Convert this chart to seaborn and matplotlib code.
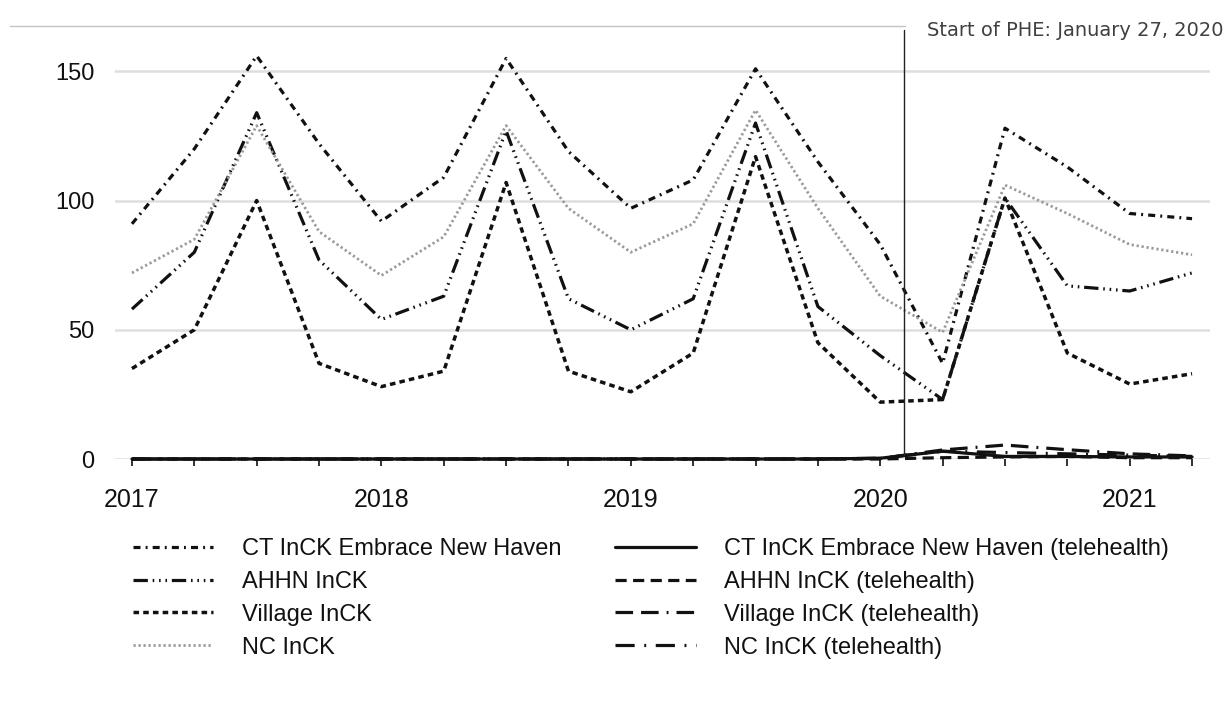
import numpy as np
import pandas as pd
import seaborn as sns
import matplotlib.pyplot as plt
from matplotlib.lines import Line2D

# quarterly values, 2017 Q1 .. 2021 Q2
quarters = [2017.0, 2017.25, 2017.5, 2017.75,
            2018.0, 2018.25, 2018.5, 2018.75,
            2019.0, 2019.25, 2019.5, 2019.75,
            2020.0, 2020.25, 2020.5, 2020.75,
            2021.0, 2021.25]
year_ticks = [2017, 2018, 2019, 2020, 2021]

ct = [91, 120, 156, 122, 92, 109, 155, 119, 97, 108, 151, 115, 83, 37, 128, 113, 95, 93]
ahhn = [58, 80, 134, 77, 54, 63, 127, 62, 50, 62, 130, 59, 40, 23, 101, 67, 65, 72]
village = [35, 50, 100, 37, 28, 34, 107, 34, 26, 41, 117, 45, 22, 23, 101, 41, 29, 33]
nc = [72, 85, 129, 88, 71, 86, 129, 97, 80, 91, 135, 97, 63, 49, 106, 95, 83, 79]

ct_tele = [0, 0, 0, 0, 0, 0, 0, 0, 0, 0, 0, 0, 0.3, 3.0, 1.0, 1.0, 0.8, 0.8]
ahhn_tele = [0, 0, 0, 0, 0, 0, 0, 0, 0, 0, 0, 0, 0, 0.5, 0.8, 1.0, 0.5, 0.5]
village_tele = [0, 0, 0, 0, 0, 0, 0, 0, 0, 0, 0, 0, 0.2, 3.5, 5.4, 3.6, 2.0, 1.2]
nc_tele = [0, 0, 0, 0, 0, 0, 0, 0, 0, 0, 0, 0, 0.3, 3.0, 2.5, 2.0, 1.5, 1.0]

phe_x = 2020.095
phe_label = "Start of PHE: January 27, 2020"

series = [
    ("CT InCK Embrace New Haven", ct, "#111111", (0, (2.2, 1.6, 0.6, 1.6)), 2.3),
    ("AHHN InCK", ahhn, "#111111", (0, (4.5, 1.5, 0.5, 1.5, 0.5, 1.5, 0.5, 1.5)), 2.3),
    ("Village InCK", village, "#111111", (0, (1.6, 1.2)), 2.5),
    ("NC InCK", nc, "#9a9a9a", (0, (0.8, 1.0)), 2.0),
    ("CT InCK Embrace New Haven (telehealth)", ct_tele, "#111111", "-", 2.3),
    ("AHHN InCK (telehealth)", ahhn_tele, "#111111", (0, (3.5, 2.0)), 2.3),
    ("Village InCK (telehealth)", village_tele, "#111111", (0, (5.5, 2.5, 5.5, 2.5, 0.6, 2.5)), 2.3),
    ("NC InCK (telehealth)", nc_tele, "#111111", (0, (6, 3, 0.6, 3)), 2.3),
]

sns.set_theme(style="white")
plt.rcParams["font.family"] = ["Liberation Sans", "DejaVu Sans"]

fig = plt.figure(figsize=(12.29, 7.09), dpi=100)
ax = fig.add_axes([115 / 1229, 1 - 459 / 709, (1210 - 115) / 1229, (459 - 30) / 709])

for y in [0, 50, 100, 150]:
    ax.axhline(y, color="#dedede", lw=1.8, zorder=0)

handles = []
for name, vals, col, ls, lw in series:
    df = pd.DataFrame({"t": quarters, "v": vals})
    sns.lineplot(data=df, x="t", y="v", ax=ax, color=col, linestyle=ls, lw=lw,
                 clip_on=False, label=name, legend=False)
    handles.append(Line2D([], [], color=col, linestyle=ls, lw=lw))

ax.axvline(phe_x, ymin=0.01, ymax=1.0, color="#222222", lw=1.0, clip_on=False)

ax.set_xlim(2016.932, 2021.322)
ax.set_ylim(0, 166)
ax.set_xticks(year_ticks)
ax.set_xticks(quarters, minor=True)
ax.set_yticks([0, 50, 100, 150])
ax.set_xlabel("")
ax.set_ylabel("")
for s in ax.spines.values():
    s.set_visible(False)
ax.tick_params(axis="x", which="both", bottom=True, length=5, width=1.3,
               color="#222222", direction="out", pad=16, labelsize=18,
               labelcolor="#111111")
ax.tick_params(axis="y", left=False, pad=9, labelsize=17, labelcolor="#111111")

fig.add_artist(Line2D([10 / 1229, 905 / 1229], [1 - 26 / 709, 1 - 26 / 709],
                      color="#c4c4c4", lw=1.0))
fig.text(927 / 1229, 1 - 31 / 709, phe_label, fontsize=14, color="#404040",
         va="center", ha="left", family=["DejaVu Sans"])

fig.legend(handles, [s[0] for s in series], ncol=2, frameon=False,
           loc="upper left", bbox_to_anchor=(133 / 1229, 1 - 538 / 709),
           borderpad=0, borderaxespad=0, fontsize=17, handlelength=3.4,
           handletextpad=1.2, columnspacing=2.3, labelspacing=0.46,
           labelcolor="#111111")

fig.savefig("out.png", dpi=100)
